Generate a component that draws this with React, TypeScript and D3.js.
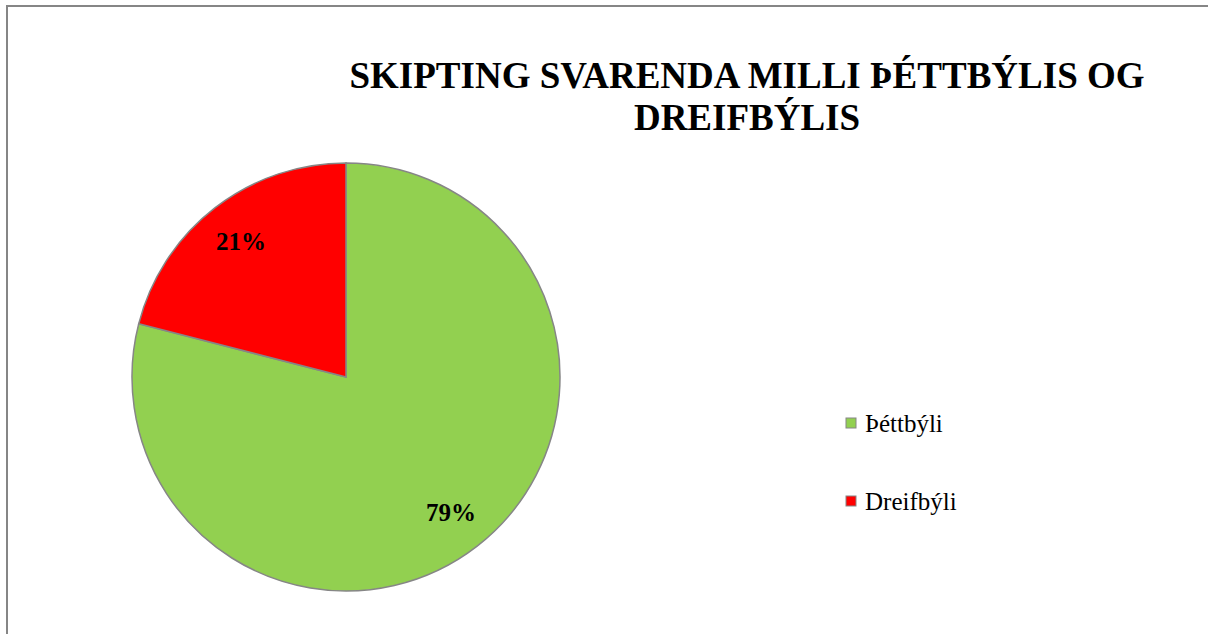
import * as d3 from 'd3';
import React, { useEffect, useRef } from 'react';

// Chart data
const categories = ['Þéttbýli', 'Dreifbýli'];
const values = [79, 21];
const colors = ['#92D050', '#FF0000'];
const titleLines = ['SKIPTING SVARENDA MILLI ÞÉTTBÝLIS OG', 'DREIFBÝLIS'];

const FONT = "'Liberation Serif', 'DejaVu Serif', 'Times New Roman', Times, serif";

const App = () => {
  const ref = useRef<SVGSVGElement | null>(null);

  useEffect(() => {
    if (!ref.current) return;
    const width = 1208, height = 634;
    const svg = d3.select(ref.current);
    svg.selectAll('*').remove();
    svg.attr('width', width).attr('height', height);

    svg.append('rect').attr('width', width).attr('height', height).attr('fill', '#fff');

    // chart area border (right and bottom edges fall outside the frame)
    svg.append('rect')
      .attr('x', 7).attr('y', 6)
      .attr('width', 1210).attr('height', 640)
      .attr('fill', 'none')
      .attr('stroke', '#868686')
      .attr('stroke-width', 2);

    // title
    svg.append('text')
      .attr('text-anchor', 'middle')
      .style('font-family', FONT)
      .attr('font-weight', 'bold')
      .attr('font-size', 37)
      .selectAll('tspan')
      .data(titleLines)
      .join('tspan')
      .attr('x', 747)
      .attr('y', (_, i) => 88 + i * 42)
      .text(d => d);

    // pie
    const cx = 346, cy = 377, r = 214;
    const pie = d3.pie<number>().sort(null).value(d => d);
    const arcs = pie(values);
    const arc = d3.arc<d3.PieArcDatum<number>>().innerRadius(0).outerRadius(r);
    const g = svg.append('g').attr('transform', `translate(${cx},${cy})`);

    g.selectAll('path')
      .data(arcs)
      .join('path')
      .attr('d', arc)
      .attr('fill', (_, i) => colors[i])
      .attr('stroke', '#868686')
      .attr('stroke-width', 1.5);

    const labelArc = d3.arc<d3.PieArcDatum<number>>().innerRadius(r * 0.8).outerRadius(r * 0.8);
    const total = d3.sum(values);
    g.selectAll('text.lbl')
      .data(arcs)
      .join('text')
      .attr('class', 'lbl')
      .attr('transform', d => {
        const [x, y] = labelArc.centroid(d);
        return `translate(${x},${y})`;
      })
      .attr('text-anchor', 'middle')
      .attr('dy', '0.35em')
      .style('font-family', FONT)
      .attr('font-weight', 'bold')
      .attr('font-size', 25)
      .text(d => `${Math.round((d.data / total) * 100)}%`);

    // legend
    const legend = svg.append('g').attr('transform', 'translate(846,418)');
    const items = legend.selectAll('g')
      .data(categories)
      .join('g')
      .attr('transform', (_, i) => `translate(0,${i * 78})`);
    items.append('rect')
      .attr('width', 10).attr('height', 10)
      .attr('fill', (_, i) => colors[i])
      .attr('stroke', '#868686')
      .attr('stroke-width', 1);
    items.append('text')
      .attr('x', 19).attr('y', 14)
      .style('font-family', FONT)
      .attr('font-size', 25)
      .text(d => d);
  }, []);

  return (
    <div style={{ position: 'absolute', left: 0, top: 0 }}>
      <svg ref={ref} style={{ display: 'block' }} />
    </div>
  );
};

export default App;
